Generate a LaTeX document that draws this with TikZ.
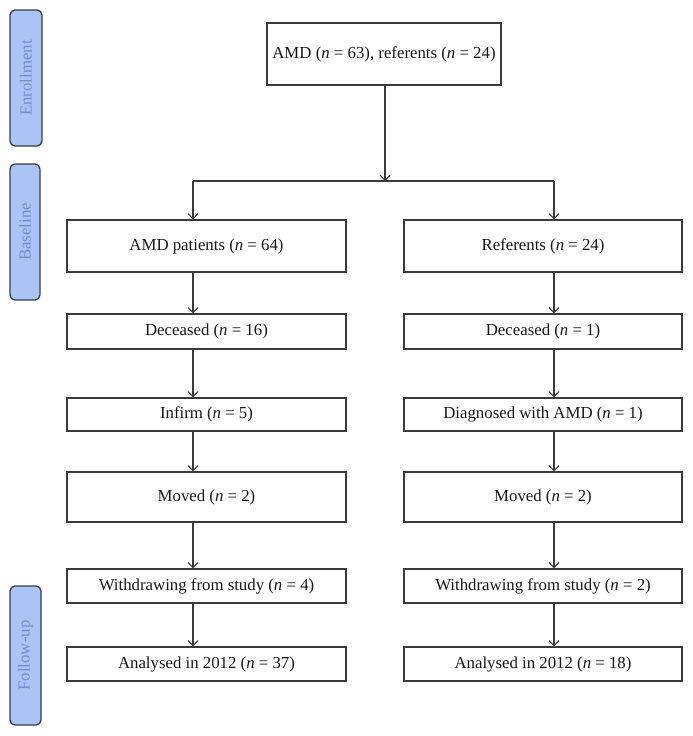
\documentclass[tikz,border=0pt]{standalone}
\usepackage{fontspec}
\setmainfont{Liberation Serif}
\usetikzlibrary{arrows.meta}
\definecolor{sidefill}{HTML}{A9C4F5}
\definecolor{sideline}{HTML}{353D4F}
\definecolor{sidetext}{HTML}{6F8ECD}
\definecolor{boxline}{HTML}{3A3A3A}
\tikzset{
  box/.style={draw=boxline, line width=1.2pt, fill=white, inner sep=0pt,
    font=\fontsize{16.8}{19}\selectfont, text=black!90},
  side/.style={draw=sideline, line width=1.3pt, fill=sidefill, rounded corners=5pt, inner sep=0pt},
  sidelabel/.style={rotate=90, text=sidetext, font=\fontsize{16.8}{19}\selectfont},
  arr/.style={draw=boxline, line width=1.1pt, -{Straight Barb[length=5pt,width=10pt]}},
  ln/.style={draw=boxline, line width=1.1pt}
}
\begin{document}
\begin{tikzpicture}[x=1pt,y=-1pt]
\useasboundingbox (0,0) rectangle (693,736);
% side labels
\draw[side] (10,10) rectangle (42,146);
\node[sidelabel] (enr) at (26,78) {Enrollment};
\draw[side] (10,164) rectangle (40,300);
\node[sidelabel] (base) at (25,232) {Baseline};
\draw[side] (10,586) rectangle (41,725);
\node[sidelabel] (fu) at (25.5,655.5) {Follow-up};
% guide coordinates for connector columns
\coordinate (L) at (193,0);
\coordinate (R) at (554,0);
\coordinate (C) at (385,0);
\coordinate (H) at (0,181);
% top box
\node[box, minimum width=234pt, minimum height=62pt] (top) at (384,54) {AMD (\textit{n} = 63), referents (\textit{n} = 24)};
% left column
\node[box, minimum width=279pt, minimum height=52pt] (amd) at (206.5,246) {AMD patients (\textit{n} = 64)};
\node[box, minimum width=279pt, minimum height=35pt] (ldec) at (206.5,331.5) {Deceased (\textit{n} = 16)};
\node[box, minimum width=279pt, minimum height=33pt] (linf) at (206.5,414.5) {Infirm (\textit{n} = 5)};
\node[box, minimum width=279pt, minimum height=50pt] (lmov) at (206.5,497) {Moved (\textit{n} = 2)};
\node[box, minimum width=279pt, minimum height=34pt] (lwit) at (206.5,586) {Withdrawing from study (\textit{n} = 4)};
\node[box, minimum width=279pt, minimum height=34pt] (lana) at (206.5,664) {Analysed in 2012 (\textit{n} = 37)};
% right column
\node[box, minimum width=278pt, minimum height=52pt] (ref) at (543,246) {Referents (\textit{n} = 24)};
\node[box, minimum width=278pt, minimum height=35pt] (rdec) at (543,331.5) {Deceased (\textit{n} = 1)};
\node[box, minimum width=278pt, minimum height=33pt] (rdia) at (543,414.5) {Diagnosed with AMD (\textit{n} = 1)};
\node[box, minimum width=278pt, minimum height=50pt] (rmov) at (543,497) {Moved (\textit{n} = 2)};
\node[box, minimum width=278pt, minimum height=34pt] (rwit) at (543,586) {Withdrawing from study (\textit{n} = 2)};
\node[box, minimum width=278pt, minimum height=34pt] (rana) at (543,664) {Analysed in 2012 (\textit{n} = 18)};
% split connector
\draw[arr] (top.south -| C) -- (C |- H);
\draw[ln] (L |- H) -- (R |- H);
\draw[arr] (L |- H) -- (amd.north -| L);
\draw[arr] (R |- H) -- (ref.north -| R);
% left chain
\draw[arr] (amd.south -| L) -- (ldec.north -| L);
\draw[arr] (ldec.south -| L) -- (linf.north -| L);
\draw[arr] (linf.south -| L) -- (lmov.north -| L);
\draw[arr] (lmov.south -| L) -- (lwit.north -| L);
\draw[arr] (lwit.south -| L) -- (lana.north -| L);
% right chain
\draw[arr] (ref.south -| R) -- (rdec.north -| R);
\draw[arr] (rdec.south -| R) -- (rdia.north -| R);
\draw[arr] (rdia.south -| R) -- (rmov.north -| R);
\draw[arr] (rmov.south -| R) -- (rwit.north -| R);
\draw[arr] (rwit.south -| R) -- (rana.north -| R);
\end{tikzpicture}
\end{document}
